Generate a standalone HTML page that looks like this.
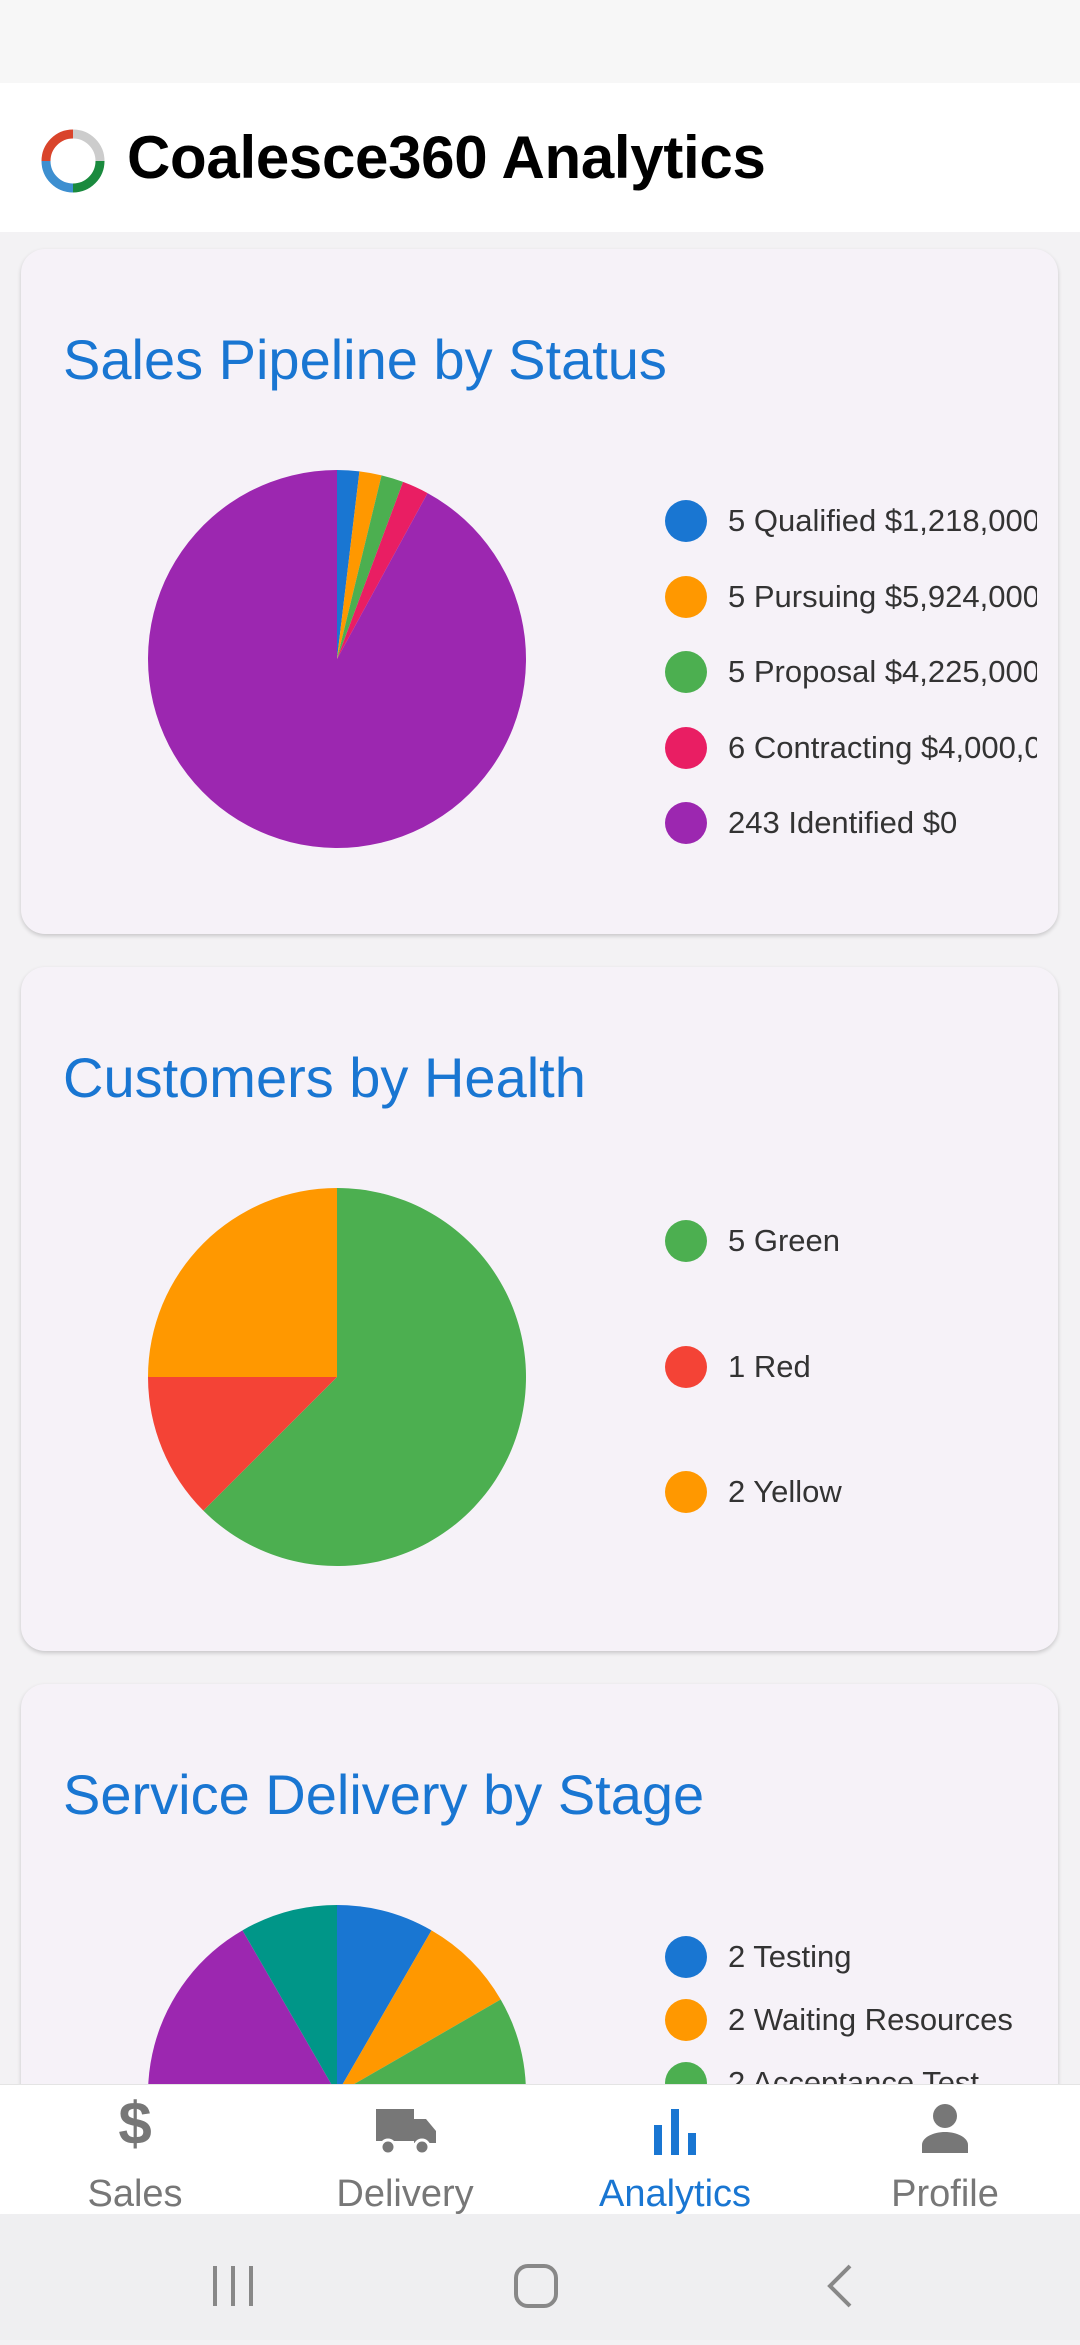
<!DOCTYPE html>
<html><head><meta charset="utf-8">
<style>
*{margin:0;padding:0;box-sizing:border-box}
body{width:1080px;height:2340px;overflow:hidden;background:#f3f2f4;font-family:"Liberation Sans",sans-serif;position:relative}
.status{position:absolute;left:0;top:0;width:1080px;height:83px;background:#f7f7f7}
.appbar{position:absolute;left:0;top:83px;width:1080px;height:149px;background:#fff}
.appbar h1{position:absolute;left:127px;top:40px;font-size:60px;font-weight:bold;color:#000;letter-spacing:-0.3px}
.card{position:absolute;left:21px;width:1037px;background:#f6f2f8;border-radius:24px;box-shadow:0 2px 4px rgba(0,0,0,.18);overflow:hidden}
.card h2{position:absolute;left:42px;font-size:56px;font-weight:normal;color:#1976d2}
.legend{position:absolute;left:643px;width:373px;overflow:hidden}
.li{position:absolute;left:0;height:44px;white-space:nowrap}
.dot{position:absolute;left:1px;top:1px;width:42px;height:42px;border-radius:50%}
.lt{position:absolute;left:64px;top:4px;font-size:31px;color:#333}
.nav{position:absolute;left:0;top:2084px;width:1080px;height:130px;background:#fff;border-top:1px solid #e4e4e4}
.tab{position:absolute;top:0;width:270px;height:130px;text-align:center}
.tab span{position:absolute;left:0;width:270px;top:88px;font-size:38px;color:#777}
.sys{position:absolute;left:0;top:2214px;width:1080px;height:126px;background:#efeff1}
</style></head><body>
<div class="status"></div>
<div class="appbar">
<svg style="position:absolute;left:40px;top:45px" width="66" height="66" viewBox="0 0 66 66">
<path d="M33 6 A27 27 0 0 1 60 33" stroke="#ccc" stroke-width="9" fill="none"/>
<path d="M60 33 A27 27 0 0 1 33 60" stroke="#1a8a3e" stroke-width="9" fill="none"/>
<path d="M33 60 A27 27 0 0 1 6 33" stroke="#3d8fd0" stroke-width="9" fill="none"/>
<path d="M6 33 A27 27 0 0 1 33 6" stroke="#d9442b" stroke-width="9" fill="none"/>
</svg>
<h1>Coalesce360 Analytics</h1>
</div>

<div class="card" style="top:249px;height:685px">
<h2 style="top:78px">Sales Pipeline by Status</h2>
<svg id="pie1" style="position:absolute;left:0;top:0" width="660" height="685"></svg>
<div class="legend" id="leg1" style="top:250px;height:360px"></div>
</div>

<div class="card" style="top:967px;height:684px">
<h2 style="top:78px">Customers by Health</h2>
<svg id="pie2" style="position:absolute;left:0;top:0" width="660" height="684"></svg>
<div class="legend" id="leg2" style="top:252px;height:300px"></div>
</div>

<div class="card" style="top:1684px;height:500px">
<h2 style="top:78px">Service Delivery by Stage</h2>
<svg id="pie3" style="position:absolute;left:0;top:0" width="660" height="700"></svg>
<div class="legend" id="leg3" style="top:251px;height:400px"></div>
</div>

<div class="nav">
<div class="tab" style="left:0">
<div style="position:absolute;left:0;width:270px;top:4px;font-size:60px;font-weight:bold;color:#777">$</div><span>Sales</span></div>
<div class="tab" style="left:270px">
<svg style="position:absolute;left:104px;top:22px" width="64" height="50" viewBox="0 0 64 50"><rect x="2" y="2" width="38" height="32" fill="#777"/><path d="M40 12h12l10 12v12H40z" fill="#777"/><circle cx="14" cy="40" r="7" fill="#777" stroke="#fff" stroke-width="3"/><circle cx="48" cy="40" r="7" fill="#777" stroke="#fff" stroke-width="3"/></svg><span>Delivery</span></div>
<div class="tab" style="left:540px">
<svg style="position:absolute;left:114px;top:24px" width="42" height="46"><rect x="0" y="16" width="8" height="30" fill="#1976d2"/><rect x="17" y="0" width="8" height="46" fill="#1976d2"/><rect x="34" y="24" width="8" height="22" fill="#1976d2"/></svg><span style="color:#1976d2">Analytics</span></div>
<div class="tab" style="left:810px">
<svg style="position:absolute;left:112px;top:18px" width="46" height="50"><circle cx="23" cy="13" r="12" fill="#777"/><path d="M0 50v-8c0-8 12-13 23-13s23 5 23 13v8z" fill="#777"/></svg><span>Profile</span></div>
</div>
<div class="sys">
<svg width="1080" height="126"><g stroke="#888" stroke-width="4" fill="none"><path d="M215 52v40M233 52v40M251 52v40"/><rect x="516" y="52" width="40" height="40" rx="12"/><path d="M850 52l-20 20 20 20"/></g></svg>
</div>

<script>
const salesLabels=["5 Qualified $1,218,000","5 Pursuing $5,924,000","5 Proposal $4,225,000","6 Contracting $4,000,000","243 Identified $0"];
const salesValues=[5,5,5,6,243];
const salesColors=["#1976d2","#ff9800","#4caf50","#e91e63","#9c27b0"];
const healthLabels=["5 Green","1 Red","2 Yellow"];
const healthValues=[5,1,2];
const healthColors=["#4caf50","#f44336","#ff9800"];
const stageLabels=["2 Testing","2 Waiting Resources","2 Acceptance Test","10 In Progress","6 Planning","2 Complete"];
const stageValues=[2,2,2,10,6,2];
const stageColors=["#1976d2","#ff9800","#4caf50","#f44336","#9c27b0","#009688"];
const NS="http://www.w3.org/2000/svg";
function drawPie(id,values,colors,cx,cy,r){
  const svg=document.getElementById(id);
  const total=values.reduce((a,b)=>a+b,0);
  let a0=0;
  values.forEach((v,i)=>{
    const a1=a0+v/total*2*Math.PI;
    const x0=cx+r*Math.sin(a0),y0=cy-r*Math.cos(a0),x1=cx+r*Math.sin(a1),y1=cy-r*Math.cos(a1);
    const p=document.createElementNS(NS,"path");
    p.setAttribute("d",`M${cx} ${cy}L${x0} ${y0}A${r} ${r} 0 ${a1-a0>Math.PI?1:0} 1 ${x1} ${y1}Z`);
    p.setAttribute("fill",colors[i]);
    
    
    svg.appendChild(p);
    a0=a1;
  });
}
function drawLegend(id,labels,colors,step){
  const leg=document.getElementById(id);
  labels.forEach((l,i)=>{
    const d=document.createElement("div");
    d.className="li";d.style.top=(i*step)+"px";
    
    
    d.innerHTML=`<div class="dot" style="background:${colors[i]}"></div><div class="lt">${l}</div>`;
    leg.appendChild(d);
  });
}
drawPie("pie1",salesValues,salesColors,316,410,189);
drawPie("pie2",healthValues,healthColors,316,410,189);
drawPie("pie3",stageValues,stageColors,316,410,189);
drawLegend("leg1",salesLabels,salesColors,75.5);
drawLegend("leg2",healthLabels,healthColors,125.5);
drawLegend("leg3",stageLabels,stageColors,63);
</script>
</body></html>
